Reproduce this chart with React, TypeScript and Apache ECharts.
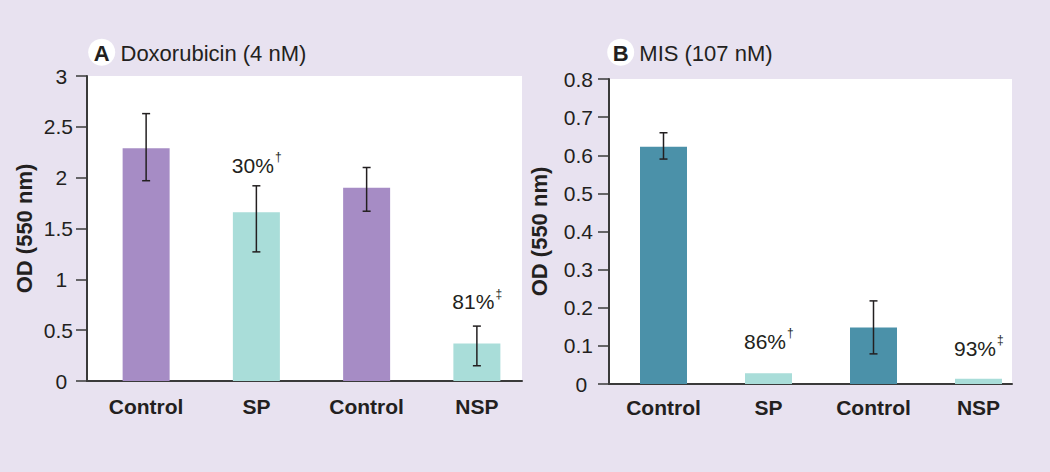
import React, { useEffect, useRef } from "react";
import * as echarts from "echarts";

const categories = ["Control", "SP", "Control", "NSP"];

const doxValues = [2.29, 1.66, 1.9, 0.37];
const doxErrLow = [1.97, 1.27, 1.67, 0.15];
const doxErrHigh = [2.63, 1.92, 2.1, 0.54];
const doxNotes = ["", "30%", "", "81%"];
const doxMarks = ["", "†", "", "‡"];
const doxNoteY = [null, 2.12, null, 0.78];
const doxTicks = { min: 0, max: 3, interval: 0.5 };

const misValues = [0.622, 0.028, 0.148, 0.014];
const misErrLow = [0.59, null, 0.079, null];
const misErrHigh = [0.659, null, 0.218, null];
const misNotes = ["", "86%", "", "93%"];
const misMarks = ["", "†", "", "‡"];
const misNoteY = [null, 0.112, null, 0.094];
const misTicks = { min: 0, max: 0.8, interval: 0.1 };

const FONT = "'Liberation Sans', Arial, Helvetica, sans-serif";
const INK = "#231f20";
const AXIS = "#3a3a3a";
const BG = "#e8e2f0";
const PURPLE = "#a68cc5";
const LIGHT_TEAL = "#a9ddd9";
const DARK_TEAL = "#4b91a9";

function barColor(cat: string, panel: "A" | "B") {
  if (cat === "Control") return panel === "A" ? PURPLE : DARK_TEAL;
  return LIGHT_TEAL;
}

function errorRender(params: any, api: any) {
  const x = api.value(0);
  const lo = api.coord([x, api.value(1)]);
  const hi = api.coord([x, api.value(2)]);
  const cap = 4;
  const style = { stroke: INK, lineWidth: 1.5 };
  return {
    type: "group",
    children: [
      { type: "line", shape: { x1: hi[0], y1: hi[1], x2: lo[0], y2: lo[1] }, style },
      { type: "line", shape: { x1: hi[0] - cap, y1: hi[1], x2: hi[0] + cap, y2: hi[1] }, style },
      { type: "line", shape: { x1: lo[0] - cap, y1: lo[1], x2: lo[0] + cap, y2: lo[1] }, style },
    ],
  };
}

function errData(lo: (number | null)[], hi: (number | null)[]) {
  const out: any[] = [];
  lo.forEach((l, i) => {
    if (l != null && hi[i] != null) out.push([i, l, hi[i]]);
  });
  return out;
}

function noteData(notes: string[], marks: string[], ys: (number | null)[]) {
  const out: any[] = [];
  notes.forEach((n, i) => {
    if (n && ys[i] != null) out.push([i, ys[i], n, marks[i]]);
  });
  return out;
}

function makeNoteRender(data: any[]) {
  return (params: any, api: any) => {
    const d = data[params.dataIndex];
    const p = api.coord([api.value(0), api.value(1)]);
    const main = String(d[2]);
    const mark = String(d[3]);
    const w = echarts.format.getTextRect
      ? (echarts.format as any).getTextRect(main, `21px ${FONT}`).width
      : main.length * 11;
    const markW = 7;
    const left = p[0] - (w + markW) / 2;
    return {
      type: "group",
      children: [
        {
          type: "text",
          x: left,
          y: p[1],
          style: { text: main, fontFamily: FONT, fontSize: 21, fill: INK, align: "left", verticalAlign: "middle" },
        },
        {
          type: "text",
          x: left + w + 1,
          y: p[1] - 8,
          style: { text: mark, fontFamily: FONT, fontSize: 12, fill: INK, align: "left", verticalAlign: "middle" },
        },
      ],
    };
  };
}

function yLabelFormatter(v: number) {
  const s = String(Math.round(v * 10) / 10);
  return s.indexOf(".") < 0 ? s + "\u2008" : s;
}

export default function App() {
  const ref = useRef<HTMLDivElement>(null);

  useEffect(() => {
    if (!ref.current) return;
    const chart = echarts.init(ref.current, undefined, { renderer: "svg" });

    const grids = [
      { left: 87, top: 76, width: 435, height: 305, show: true, backgroundColor: "#ffffff", borderWidth: 0 },
      { left: 91, top: 76, width: 441, height: 305 },
      { left: 609, top: 79, width: 403, height: 305, show: true, backgroundColor: "#ffffff", borderWidth: 0 },
      { left: 611, top: 79, width: 420, height: 305 },
    ];

    const axisYVisible = (gi: number, ticks: any, labelMargin: number, nameGap: number) => ({
      type: "value",
      gridIndex: gi,
      min: ticks.min,
      max: ticks.max,
      interval: ticks.interval,
      name: "OD (550 nm)",
      nameLocation: "middle",
      nameGap,
      nameTextStyle: { fontFamily: FONT, fontWeight: "bold", fontSize: 22, color: INK },
      axisLine: { show: true, lineStyle: { color: AXIS, width: 2 } },
      axisTick: { show: true, length: 11, lineStyle: { color: AXIS, width: 1.5 } },
      splitLine: { show: false },
      axisLabel: {
        margin: labelMargin,
        fontFamily: FONT,
        fontSize: 21,
        color: INK,
        formatter: yLabelFormatter,
      },
    });

    const axisYHidden = (gi: number, ticks: any) => ({
      type: "value",
      gridIndex: gi,
      min: ticks.min,
      max: ticks.max,
      interval: ticks.interval,
      show: false,
    });

    const axisXLine = (gi: number) => ({
      type: "category",
      gridIndex: gi,
      data: categories,
      axisLine: { show: true, lineStyle: { color: AXIS, width: 2 } },
      axisTick: { show: false },
      axisLabel: { show: false },
    });

    const axisXBars = (gi: number, margin: number) => ({
      type: "category",
      gridIndex: gi,
      data: categories,
      axisLine: { show: false },
      axisTick: { show: false },
      axisLabel: { margin, fontFamily: FONT, fontWeight: "bold", fontSize: 21, color: INK },
    });

    const doxNoteData = noteData(doxNotes, doxMarks, doxNoteY);
    const misNoteData = noteData(misNotes, misMarks, misNoteY);

    const option: any = {
      animation: false,
      backgroundColor: BG,
      grid: grids,
      xAxis: [axisXLine(0), axisXBars(1, 15), axisXLine(2), axisXBars(3, 13)],
      yAxis: [
        axisYVisible(0, doxTicks, 14, 52),
        axisYHidden(1, doxTicks),
        axisYVisible(2, misTicks, 16, 59),
        axisYHidden(3, misTicks),
      ],
      series: [
        {
          type: "bar",
          xAxisIndex: 1,
          yAxisIndex: 1,
          barWidth: 47,
          data: doxValues.map((v, i) => ({ value: v, itemStyle: { color: barColor(categories[i], "A") } })),
        },
        {
          type: "custom",
          xAxisIndex: 1,
          yAxisIndex: 1,
          renderItem: errorRender,
          data: errData(doxErrLow, doxErrHigh),
          z: 5,
        },
        {
          type: "custom",
          xAxisIndex: 1,
          yAxisIndex: 1,
          renderItem: makeNoteRender(doxNoteData),
          data: doxNoteData.map((d) => [d[0], d[1]]),
          z: 6,
        },
        {
          type: "bar",
          xAxisIndex: 3,
          yAxisIndex: 3,
          barWidth: 47,
          data: misValues.map((v, i) => ({ value: v, itemStyle: { color: barColor(categories[i], "B") } })),
        },
        {
          type: "custom",
          xAxisIndex: 3,
          yAxisIndex: 3,
          renderItem: errorRender,
          data: errData(misErrLow, misErrHigh),
          z: 5,
        },
        {
          type: "custom",
          xAxisIndex: 3,
          yAxisIndex: 3,
          renderItem: makeNoteRender(misNoteData),
          data: misNoteData.map((d) => [d[0], d[1]]),
          z: 6,
        },
      ],
      graphic: [
        { type: "circle", shape: { cx: 101.7, cy: 52.3, r: 13.5 }, style: { fill: "#ffffff" } },
        {
          type: "text",
          x: 101.7,
          y: 53,
          style: { text: "A", fontFamily: FONT, fontWeight: "bold", fontSize: 22, fill: INK, align: "center", verticalAlign: "middle" },
        },
        {
          type: "text",
          x: 120.5,
          y: 53,
          style: { text: "Doxorubicin (4 nM)", fontFamily: FONT, fontSize: 22, fill: INK, align: "left", verticalAlign: "middle" },
        },
        { type: "circle", shape: { cx: 620.7, cy: 52.3, r: 13.5 }, style: { fill: "#ffffff" } },
        {
          type: "text",
          x: 620.7,
          y: 53,
          style: { text: "B", fontFamily: FONT, fontWeight: "bold", fontSize: 22, fill: INK, align: "center", verticalAlign: "middle" },
        },
        {
          type: "text",
          x: 639.3,
          y: 53,
          style: { text: "MIS (107 nM)", fontFamily: FONT, fontSize: 22, fill: INK, align: "left", verticalAlign: "middle" },
        },
      ],
    };

    chart.setOption(option);
    return () => chart.dispose();
  }, []);

  return (
    <div
      ref={ref}
      style={{ position: "absolute", left: 0, top: 0, width: 1050, height: 472 }}
    />
  );
}
